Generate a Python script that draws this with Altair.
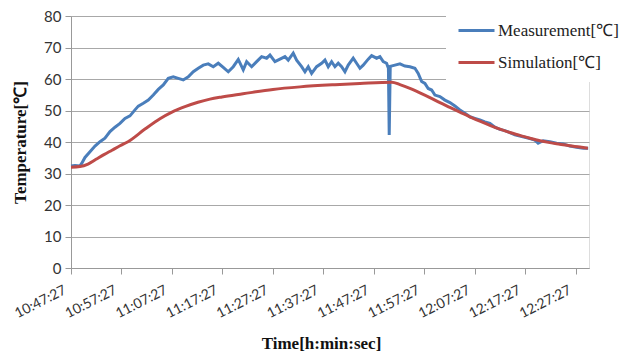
import altair as alt
import pandas as pd

# X tick labels (clock time) and their positions in minutes after 10:47:27
tick_labels = ["10:47:27", "10:57:27", "11:07:27", "11:17:27", "11:27:27", "11:37:27",
               "11:47:27", "11:57:27", "12:07:27", "12:17:27", "12:27:27"]
tick_minutes = [0, 10, 20, 30, 40, 50, 60, 70, 80, 90, 100]

series_names = ["Measurement[℃]", "Simulation[℃]"]

# Measurement (minutes after 10:47:27, temperature)
meas_min = [0.0, 0.79, 1.78, 2.12, 2.77, 3.76, 4.75, 5.74, 6.73, 7.72,
            8.71, 9.70, 10.69, 11.68, 12.67, 13.33, 14.32, 15.31, 16.30, 17.29,
            18.28, 19.27, 20.26, 21.25, 22.24, 23.23, 24.22, 25.21, 26.20, 27.19,
            28.18, 29.17, 30.16, 31.15, 32.14, 33.13, 34.12, 34.79, 35.78, 36.77,
            37.76, 38.75, 39.41, 40.40, 41.39, 42.38, 43.03, 44.02, 44.69, 45.68,
            46.34, 46.99, 47.66, 48.65, 49.64, 50.30, 50.95, 51.62, 52.28, 52.93,
            53.60, 54.26, 54.91, 55.90, 56.57, 57.23, 57.88, 58.87, 59.54, 60.53,
            61.19, 61.84, 62.51, 62.87, 63.03, 63.23, 64.16, 65.15, 66.14, 67.13,
            68.12, 68.77, 69.45, 70.10, 70.75, 71.43, 72.08, 73.07, 74.06, 75.05,
            76.04, 77.03, 78.02, 79.01, 80.00, 80.99, 81.98, 82.97, 83.96, 84.95,
            85.94, 86.93, 87.92, 88.91, 89.90, 90.89, 91.88, 92.53, 93.52, 94.85,
            96.18, 97.49, 98.81, 100.14, 101.45, 102.44]
meas_val = [32.4, 32.5, 32.4, 33.2, 35.1, 36.9, 38.7, 40.1, 41.2, 43.3,
            44.7, 45.9, 47.5, 48.3, 50.2, 51.4, 52.3, 53.3, 54.9, 56.7,
            58.1, 60.2, 60.7, 60.2, 59.7, 60.7, 62.3, 63.4, 64.4, 64.8,
            63.9, 65.0, 63.7, 62.3, 63.9, 66.2, 62.9, 65.5, 63.9, 65.5,
            67.1, 66.6, 67.6, 65.5, 66.3, 67.1, 66.0, 68.2, 66.0, 63.9,
            62.3, 63.9, 61.8, 63.9, 65.0, 66.0, 63.9, 65.5, 63.9, 65.0,
            63.9, 62.3, 64.4, 66.6, 65.0, 63.4, 64.4, 66.3, 67.4, 66.6,
            67.1, 65.5, 65.0, 63.4, 42.2, 64.0, 64.4, 64.8, 64.1, 63.9,
            63.4, 61.8, 59.2, 58.6, 57.0, 56.5, 54.9, 54.4, 53.3, 52.5,
            51.4, 50.2, 49.1, 48.0, 47.5, 47.0, 46.4, 45.9, 44.7, 44.0,
            43.6, 43.0, 42.3, 41.9, 41.5, 41.1, 40.6, 39.6, 40.4, 40.1,
            39.6, 39.4, 38.7, 38.3, 38.0, 38.0]

# Simulation (minutes after 10:47:27, temperature)
sim_min = [0.0, 1.78, 3.37, 4.95, 6.53, 8.12, 9.70, 11.29, 14.65, 17.62,
           20.00, 22.57, 25.15, 27.52, 29.90, 34.06, 40.00, 45.35, 52.28, 57.23,
           63.56, 65.15, 67.13, 69.11, 71.09, 73.07, 75.05, 77.03, 79.01, 80.99,
           82.97, 84.95, 86.93, 88.91, 90.89, 92.87, 94.85, 96.83, 98.81, 100.79,
           102.38]
sim_val = [32.0, 32.2, 33.0, 34.5, 36.0, 37.4, 38.8, 40.1, 44.1, 47.4,
           49.5, 51.2, 52.6, 53.6, 54.3, 55.3, 56.7, 57.5, 58.2, 58.6,
           59.0, 58.2, 57.0, 55.6, 54.1, 52.5, 51.0, 49.5, 48.0, 46.6,
           45.3, 44.1, 43.0, 42.1, 41.2, 40.4, 39.8, 39.3, 38.8, 38.4,
           38.0]

colors = ["#4A7EBB", "#BE4B48"]

df_m = pd.DataFrame({"t": meas_min, "v": meas_val, "s": series_names[0]})
df_s = pd.DataFrame({"t": sim_min, "v": sim_val, "s": series_names[1]})

label_array = "[" + ",".join("'" + l + "'" for l in tick_labels) + "]"

x_enc = alt.X("t:Q",
              scale=alt.Scale(domain=[0, 102.6], nice=False, zero=False),
              axis=alt.Axis(values=tick_minutes, grid=False,
                            labelExpr=label_array + "[round(datum.value/10)]",
                            labelAngle=-27, labelAlign="right", labelBaseline="middle",
                            labelFont="Lato", labelFontSize=14, labelColor="#333333",
                            labelPadding=15, labelOffset=-6, tickSize=6,
                            tickColor="#999999",
                            domainColor="#999999", labelOverlap=False,
                            title="Time[h:min:sec]", titleFont="Liberation Serif",
                            titleFontSize=17, titleFontWeight="bold", titleColor="#111111",
                            titleX=250, titleY=75, titleAlign="center",
                            titleBaseline="middle"))
y_enc = alt.Y("v:Q",
              scale=alt.Scale(domain=[0, 80], nice=False),
              axis=alt.Axis(values=[0, 10, 20, 30, 40, 50, 60, 70, 80],
                            gridColor="#a8a8a8", gridWidth=1.2,
                            labelFont="Lato", labelFontSize=15, labelColor="#333333",
                            labelPadding=4, tickSize=6, tickColor="#999999",
                            domainColor="#999999",
                            title="Temperature[℃]", titleFont="Liberation Serif",
                            titleFontSize=17, titleFontWeight="bold", titleColor="#111111",
                            titleX=-51, titleY=126, titleAngle=270, titleAlign="center",
                            titleBaseline="middle"))

color_enc = alt.Color("s:N",
                      scale=alt.Scale(domain=series_names, range=colors),
                      legend=alt.Legend(title=None, orient="none", legendX=375, legendY=-16,
                                        symbolType="stroke", symbolSize=1296,
                                        symbolStrokeWidth=3, labelFont="Liberation Serif",
                                        labelFontSize=17, labelColor="#222222",
                                        fillColor="white", padding=11, rowPadding=4,
                                        labelOffset=2, labelLimit=300))

meas = alt.Chart(df_m).mark_line(strokeWidth=3).encode(x=x_enc, y=y_enc, color=color_enc)
sim = alt.Chart(df_s).mark_line(strokeWidth=3, interpolate="monotone").encode(
    x=x_enc, y=y_enc, color=color_enc)

chart = alt.layer(meas, sim).properties(
    width=518, height=252,
    autosize=alt.AutoSizeParams(type="none"),
    padding={"left": 63, "top": 8, "right": 30, "bottom": 86},
).configure_view(stroke=None).configure(background="white")

chart.save("out.html", embed_options={"renderer": "svg", "actions": False})
